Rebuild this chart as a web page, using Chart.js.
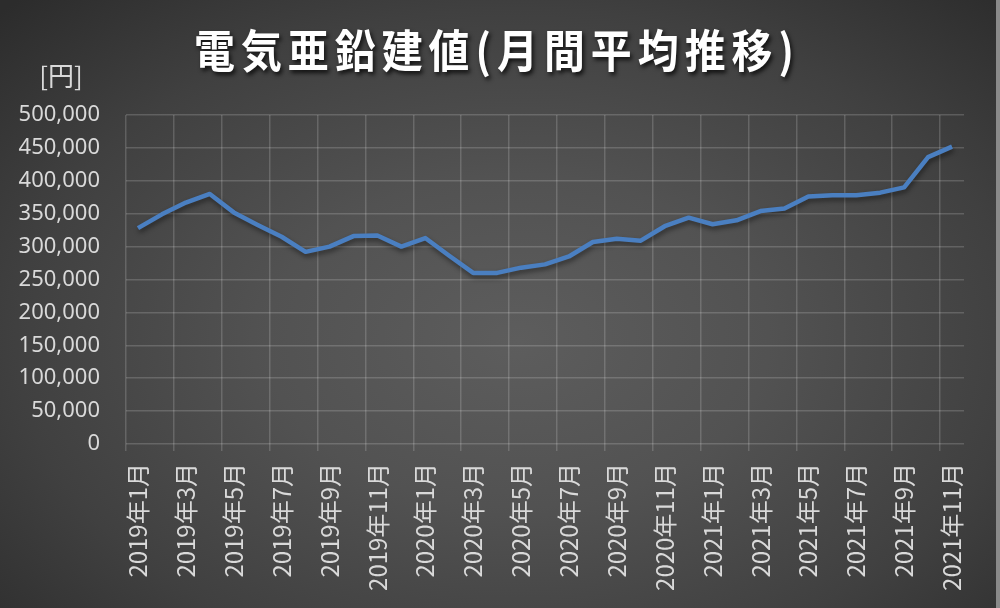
<!DOCTYPE html>
<html lang="ja">
<head>
<meta charset="utf-8">
<title>電気亜鉛建値(月間平均推移)</title>
<script src="https://cdn.jsdelivr.net/npm/chart.js@4.4.1/dist/chart.umd.min.js"></script>
<style>
  html, body { margin: 0; padding: 0; background: #2b2b2b; }
  #wrap {
    position: relative;
    width: 996px;
    height: 608px;
    border-right: 4px solid #8a8a8a;
    background: radial-gradient(ellipse 72% 78% at 52% 56%, #5d5d5d 0%, #525252 35%, #404040 70%, #2c2c2c 100%);
  }
  canvas { display: block; }
</style>
</head>
<body>
<div id="wrap"><canvas id="chart" width="996" height="608"></canvas></div>
<script>
const chartTitle = '電気亜鉛建値(月間平均推移)';
const unitLabel = '[円]';

const months = [
  '2019年1月', '2019年2月', '2019年3月', '2019年4月', '2019年5月', '2019年6月',
  '2019年7月', '2019年8月', '2019年9月', '2019年10月', '2019年11月', '2019年12月',
  '2020年1月', '2020年2月', '2020年3月', '2020年4月', '2020年5月', '2020年6月',
  '2020年7月', '2020年8月', '2020年9月', '2020年10月', '2020年11月', '2020年12月',
  '2021年1月', '2021年2月', '2021年3月', '2021年4月', '2021年5月', '2021年6月',
  '2021年7月', '2021年8月', '2021年9月', '2021年10月', '2021年11月'
];

// 月間平均 (円/t)
const zincPrice = [
  328000, 349000, 367000, 380000, 352000, 333000,
  315000, 292000, 300000, 316000, 317000, 300000,
  313000, 286000, 260000, 260000, 268000, 273000,
  285000, 307000, 312000, 309000, 331000, 344000,
  334000, 340000, 354000, 358000, 376000, 378000,
  378000, 382000, 390000, 436000, 452000
];

const yMin = 0;
const yMax = 500000;
const yStep = 50000;

const gridColor = 'rgba(255,255,255,0.17)';
const labelColor = '#d9d9d9';

// title and unit label, drawn with a soft shadow like the original
const titlePlugin = {
  id: 'titleText',
  afterDraw(chart) {
    const ctx = chart.ctx;
    ctx.save();
    ctx.font = 'bold 44px "Noto Sans CJK JP"';
    ctx.textBaseline = 'middle';
    ctx.textAlign = 'left';
    const sx = 0.93;
    const target = 600;
    const w0 = ctx.measureText(chartTitle).width * sx;
    const spacing = Math.max(0, (target - w0) / (chartTitle.length - 1) / sx);
    if ('letterSpacing' in ctx) ctx.letterSpacing = spacing + 'px';
    ctx.translate(194, 51);
    ctx.scale(sx, 1.04);
    ctx.shadowColor = 'rgba(0,0,0,0.75)';
    ctx.shadowBlur = 4;
    ctx.shadowOffsetX = 2;
    ctx.shadowOffsetY = 3;
    ctx.fillStyle = '#ffffff';
    ctx.fillText(chartTitle, 0, 0);
    ctx.restore();

    ctx.save();
    ctx.font = '26px "Noto Sans CJK JP"';
    ctx.fillStyle = labelColor;
    ctx.textAlign = 'center';
    ctx.textBaseline = 'middle';
    ctx.fillText(unitLabel, 61, 76);
    ctx.restore();
  }
};

const lineShadow = {
  id: 'lineShadow',
  beforeDatasetDraw(chart) {
    const ctx = chart.ctx;
    ctx.save();
    ctx.shadowColor = 'rgba(0,0,0,0.45)';
    ctx.shadowBlur = 5;
    ctx.shadowOffsetX = 1;
    ctx.shadowOffsetY = 3;
  },
  afterDatasetDraw(chart) {
    chart.ctx.restore();
  }
};

new Chart(document.getElementById('chart'), {
  type: 'line',
  data: {
    labels: months,
    datasets: [{
      label: '電気亜鉛建値',
      data: zincPrice,
      borderColor: '#4a7fc1',
      borderWidth: 4.5,
      borderJoinStyle: 'round',
      borderCapStyle: 'butt',
      pointRadius: 0,
      tension: 0,
      fill: false
    }]
  },
  options: {
    responsive: false,
    animation: false,
    layout: { padding: { top: 115, right: 32, left: 0, bottom: 0 } },
    plugins: {
      legend: { display: false },
      title: { display: false },
      tooltip: { enabled: false }
    },
    scales: {
      x: {
        type: 'category',
        offset: true,
        border: { display: false },
        grid: {
          offset: true,
          drawTicks: true,
          tickLength: 7,
          lineWidth: 1.5,
          color: (c) => (c.index !== undefined && c.index % 2 === 0) ? gridColor : 'rgba(0,0,0,0)'
        },
        ticks: {
          autoSkip: false,
          maxRotation: 90,
          minRotation: 90,
          padding: 12,
          color: labelColor,
          font: { family: '"Noto Sans CJK JP"', size: 24 },
          callback: function (value, index) {
            return index % 2 === 0 ? this.getLabelForValue(value) : '';
          }
        },
        afterFit(scale) { scale.height = 164; }
      },
      y: {
        min: yMin,
        max: yMax,
        border: { display: false },
        grid: {
          drawTicks: false,
          lineWidth: 1.5,
          color: gridColor
        },
        ticks: {
          stepSize: yStep,
          padding: 26,
          color: labelColor,
          font: { family: '"Noto Sans", "Noto Sans CJK JP"', size: 22 },
          callback: (v) => v.toLocaleString('en-US')
        },
        afterFit(scale) { scale.width = 126; }
      }
    }
  },
  plugins: [titlePlugin, lineShadow]
});
</script>
</body>
</html>
